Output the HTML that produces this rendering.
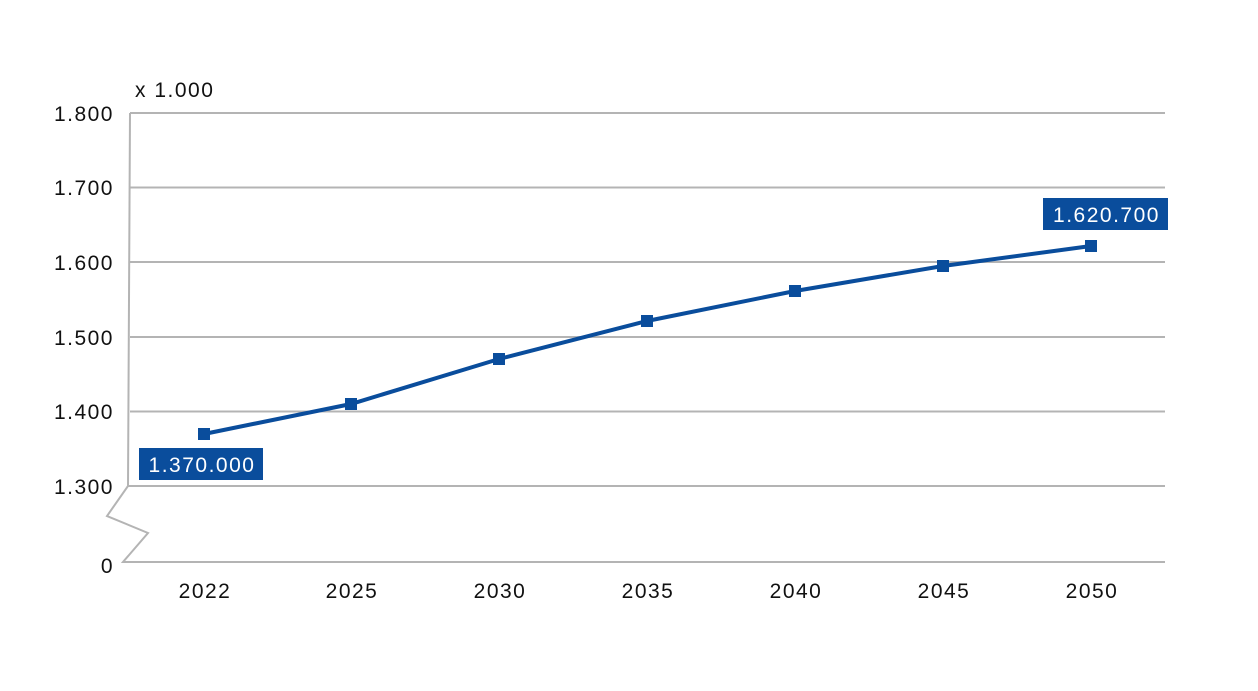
<!DOCTYPE html>
<html><head><meta charset="utf-8"><style>
body{margin:0;background:#fff}
svg{display:block}
text{font-family:"Liberation Sans",sans-serif;font-size:21px;letter-spacing:1.5px;fill:#111}
</style></head><body>
<svg width="1258" height="691" viewBox="0 0 1258 691">
<g stroke="#b4b4b4" stroke-width="2" fill="none">
<line x1="130" y1="113" x2="1165" y2="113"/>
<line x1="130" y1="187.5" x2="1165" y2="187.5"/>
<line x1="130" y1="262" x2="1165" y2="262"/>
<line x1="130" y1="337" x2="1165" y2="337"/>
<line x1="130" y1="411.5" x2="1165" y2="411.5"/>
<line x1="128" y1="486" x2="1165" y2="486"/>
<polyline points="130,113 128,486 107,516 148,533 123,562 1165,562"/>
</g>
<g text-anchor="end">
<text x="114" y="121">1.800</text>
<text x="114" y="195">1.700</text>
<text x="114" y="270">1.600</text>
<text x="114" y="345">1.500</text>
<text x="114" y="419">1.400</text>
<text x="114" y="494">1.300</text>
<text x="114" y="573">0</text>
</g>
<text x="135" y="97">x 1.000</text>
<g text-anchor="middle">
<text x="205" y="598">2022</text>
<text x="352" y="598">2025</text>
<text x="500" y="598">2030</text>
<text x="648" y="598">2035</text>
<text x="796" y="598">2040</text>
<text x="944" y="598">2045</text>
<text x="1092" y="598">2050</text>
</g>
<polyline points="204,434 351,404 499,359 647,321 795,291 943,266 1091,246" fill="none" stroke="#0a4d9c" stroke-width="4"/>
<g fill="#0a4d9c">
<rect x="198" y="428" width="12" height="12"/>
<rect x="345" y="398" width="12" height="12"/>
<rect x="493" y="353" width="12" height="12"/>
<rect x="641" y="315" width="12" height="12"/>
<rect x="789" y="285" width="12" height="12"/>
<rect x="937" y="260" width="12" height="12"/>
<rect x="1085" y="240" width="12" height="12"/>
<rect x="139" y="448" width="124" height="32"/>
<rect x="1043" y="198" width="125" height="32"/>
</g>
<text x="202" y="472" text-anchor="middle" style="fill:#fff">1.370.000</text>
<text x="1106.5" y="222" text-anchor="middle" style="fill:#fff">1.620.700</text>
</svg>
</body></html>
